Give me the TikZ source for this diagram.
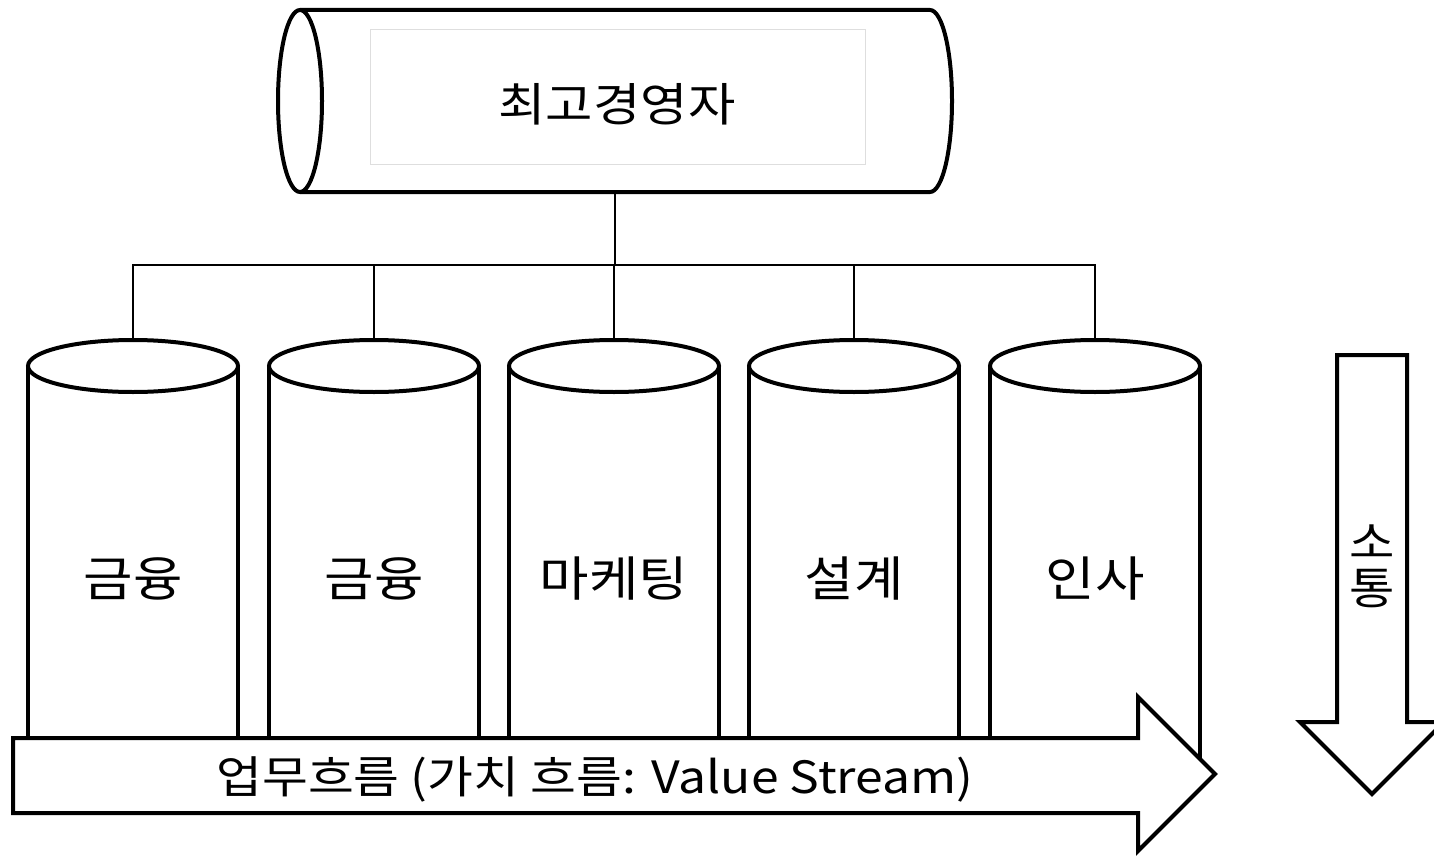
\documentclass[tikz,border=0pt]{standalone}
\usepackage{fontspec}
\setmainfont{Noto Sans CJK KR}
\newfontfamily\krwide[FakeStretch=1.12]{Noto Sans CJK KR}
\begin{document}
\begin{tikzpicture}[x=1pt,y=-1pt,
  thickline/.style={line width=4pt, line join=miter},
  thinline/.style={line width=2pt},
  lbl/.style={font=\krwide\fontsize{46}{54}\selectfont, inner sep=0pt},
  clbl/.style={font=\krwide\fontsize{48}{56}\selectfont, inner sep=0pt},
  hidden/.style={inner sep=0pt, minimum size=0pt}]
\useasboundingbox (0,0) rectangle (1434,856);
% top horizontal cylinder
\draw[thickline, fill=white] (300,10) -- (930,10) arc[start angle=-90, end angle=90, x radius=22, y radius=91] -- (300,192);
\draw[thickline] (300,101) ellipse[x radius=22, y radius=91];
\node[hidden, minimum width=652, minimum height=182] (top) at (615,101) {};
\node[draw=black!13, line width=1pt, minimum width=495, minimum height=134] (box) at (617.5,97) {};
\node[lbl] (ceo) at (617,104) {최고경영자};
% vertical cylinders
\foreach \i/\x/\t in {1/133/금융, 2/374/금융, 3/614/마케팅, 4/854/설계, 5/1095/인사}{
  \draw[thickline, fill=white] (\x-105,366) -- (\x-105,770) -- (\x+105,770) -- (\x+105,366);
  \draw[thickline, fill=white] (\x,366) ellipse[x radius=105, y radius=26];
  \coordinate (t\i) at (\x,340);
  \node[clbl] (c\i) at (\x,579) {\t};
}
% connectors
\coordinate (bus) at (614,265);
\draw[thinline] (top.south) -- (top.south |- bus);
\draw[thinline] (t1) -- (t1 |- bus) -- (t5 |- bus) -- (t5);
\foreach \i in {2,3,4}{ \draw[thinline] (t\i) -- (t\i |- bus); }
% value stream arrow
\draw[thickline, fill=white] (13,738) -- (1138,738) -- (1138,697) -- (1215,774) -- (1138,851) -- (1138,813) -- (13,813) -- cycle;
\node[lbl, font=\krwide\fontsize{44.5}{52}\selectfont] (flow) at (595,779) {업무흐름 (가치 흐름: Value Stream)};
% communication arrow
\draw[thickline, fill=white] (1337,355) -- (1407,355) -- (1407,722) -- (1444,722) -- (1372,794) -- (1300,722) -- (1337,722) -- cycle;
\node[lbl, align=center, font=\krwide\fontsize{44}{46}\selectfont] (comm) at (1372,566) {소\\통};
\end{tikzpicture}
\end{document}
